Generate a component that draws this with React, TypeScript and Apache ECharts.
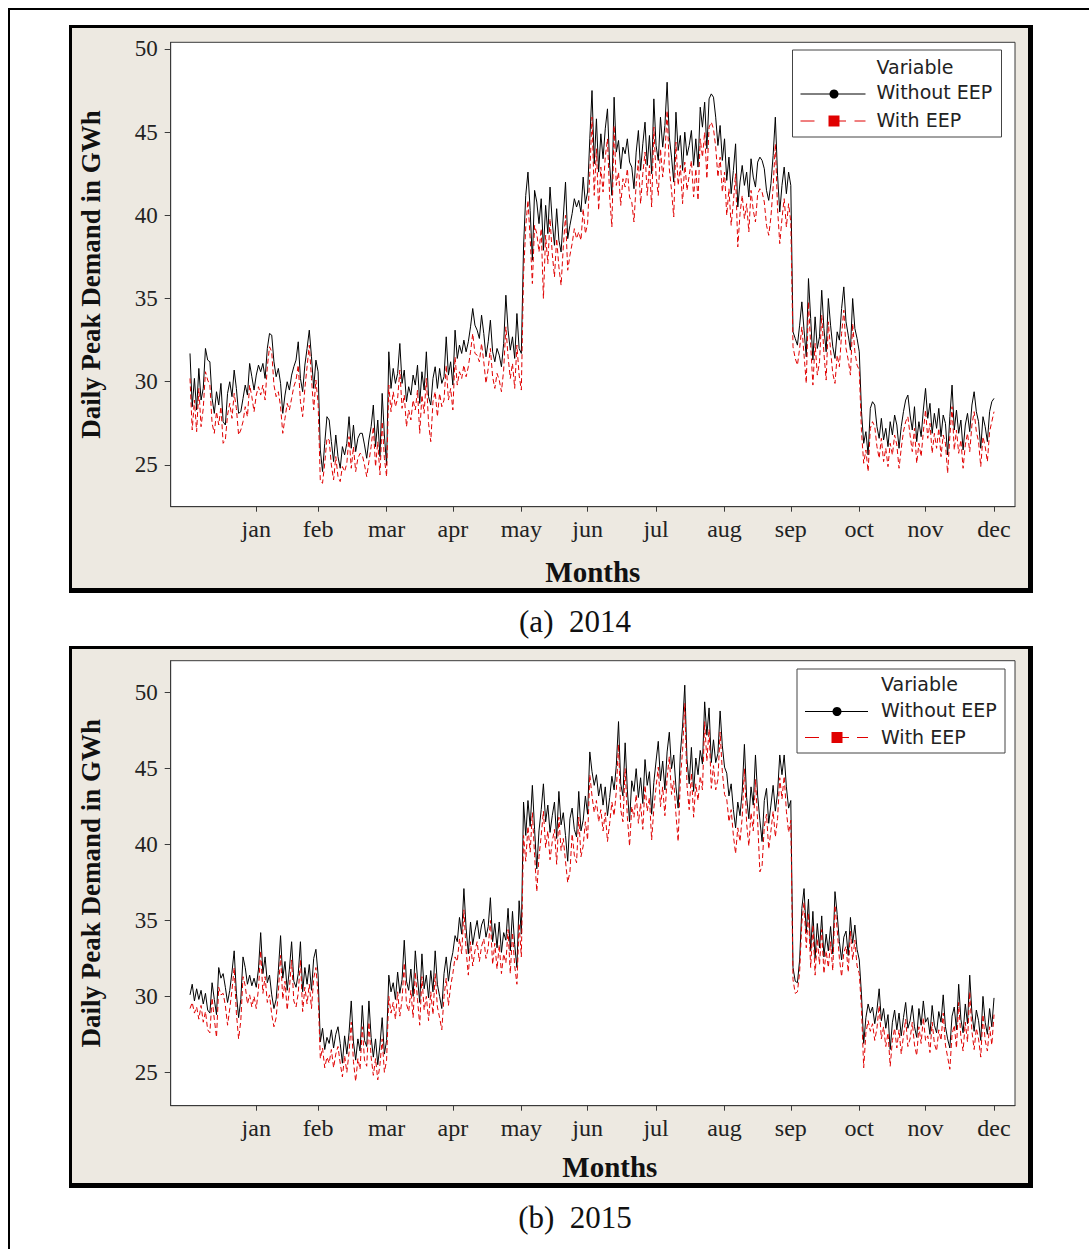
import React, { useEffect, useRef } from "react";
import * as echarts from "echarts";

const MONTHS = ["jan", "feb", "mar", "apr", "may", "jun", "jul", "aug", "sep", "oct", "nov", "dec"];
const MONTH_TICK_DAYS = [31, 59, 90, 120, 151, 181, 212, 243, 273, 304, 334, 365];
const Y_TICKS = [25, 30, 35, 40, 45, 50];

const WITHOUT_EEP_2014 = [
  31.7, 28.5, 30.2, 28.3, 30.8, 28.9, 29.6, 32.0, 31.3, 31.2, 29.0, 28.1, 29.4, 28.6, 29.9, 27.6, 27.4, 29.3, 30.0, 29.1, 30.7, 29.6, 28.1, 28.2, 29.0, 29.8, 29.2, 31.1, 30.3, 29.5, 30.4,
  31.0, 30.6, 31.1, 30.2, 32.0, 32.9, 32.8, 31.2, 30.3, 30.8, 29.9, 28.1, 29.2, 30.0, 29.5, 30.4, 30.9, 31.3, 32.4, 30.2, 29.4, 31.0, 32.0, 33.1, 31.5, 29.6, 31.3, 30.6,
  25.9, 24.6, 26.3, 27.9, 27.7, 26.4, 25.2, 26.8, 25.5, 24.8, 26.1, 25.6, 26.3, 27.9, 26.0, 27.4, 25.8, 26.6, 26.9, 26.9, 26.2, 25.4, 26.5, 27.3, 28.6, 26.1, 27.7, 25.5, 29.3, 26.8, 25.0,
  31.8, 29.6, 30.8, 29.9, 30.5, 32.3, 29.9, 30.7, 28.8, 29.7, 29.2, 30.4, 29.8, 31.0, 28.7, 30.6, 29.5, 31.8, 29.1, 28.6, 30.2, 30.9, 29.6, 30.8, 29.9, 30.3, 32.7, 30.4, 31.2, 29.8,
  33.1, 31.4, 32.2, 31.7, 32.5, 31.8, 32.4, 33.3, 34.4, 33.4, 33.1, 32.6, 34.0, 32.9, 31.5, 32.4, 33.7, 31.8, 31.2, 32.0, 31.6, 30.9, 32.3, 35.2, 33.1, 31.9, 32.7, 31.4, 34.1, 32.0, 31.7,
  38.1, 41.2, 42.6, 40.3, 37.3, 41.5, 40.8, 39.5, 41.0, 37.9, 40.6, 38.9, 41.7, 39.6, 38.2, 40.4, 38.5, 37.8, 39.9, 42.0, 38.6, 39.4, 40.1, 41.0, 40.5, 40.9, 40.2, 42.3, 40.7, 41.4,
  44.6, 47.5, 43.1, 45.8, 42.6, 44.9, 43.4, 45.2, 46.4, 43.0, 41.2, 47.1, 43.8, 44.5, 42.8, 44.1, 43.7, 44.6, 43.2, 42.9, 41.6, 43.8, 45.1, 42.7, 44.3, 45.6, 43.0, 44.8, 42.5, 47.0, 44.2,
  43.3, 45.9, 44.1, 45.4, 48.0, 44.7, 43.5, 42.0, 46.2, 43.9, 44.8, 42.7, 45.0, 43.6, 44.2, 45.1, 43.0, 44.6, 42.9, 46.5, 45.3, 46.8, 44.0, 47.0, 47.3, 47.1, 45.9, 44.2, 45.4, 43.3, 44.6,
  42.1, 43.5, 41.3, 42.7, 44.3, 40.5, 42.0, 43.0, 41.8, 42.6, 41.1, 43.4, 42.3, 41.7, 43.2, 43.5, 43.3, 42.8, 41.5, 40.9, 41.9, 43.6, 45.9, 42.4, 40.2, 41.8, 42.9, 41.3, 42.6, 41.8,
  33.0, 32.6, 32.2, 33.4, 34.8, 33.1, 31.5, 36.2, 33.8, 31.3, 33.9, 32.0, 32.7, 35.5, 33.2, 31.8, 35.0, 33.4, 32.1, 31.4, 33.0, 32.5, 34.4, 35.7, 33.6, 32.8, 31.9, 35.0, 33.2, 32.6, 31.8,
  28.2, 26.3, 27.0, 25.6, 28.4, 28.8, 28.6, 27.3, 26.6, 27.8, 26.5, 27.2, 26.1, 27.6, 26.8, 28.0, 27.4, 26.0, 27.3, 28.2, 28.9, 29.2, 28.0, 27.1, 28.5, 26.4, 27.6, 26.7, 28.3, 29.6,
  27.8, 28.7, 26.9, 28.1, 27.2, 28.4, 26.7, 28.0, 27.5, 25.6, 27.9, 29.8, 27.1, 28.3, 26.9, 27.7, 25.9, 27.4, 28.1, 27.0, 28.6, 29.4, 28.2, 27.6, 26.0, 27.9, 27.3, 26.4, 28.2, 28.8, 29.0,
];

const WITH_EEP_2014 = [
  30.2, 27.1, 28.9, 27.0, 29.6, 27.3, 28.4, 30.6, 30.1, 29.8, 27.5, 26.9, 28.2, 27.4, 28.5, 26.3, 26.5, 28.0, 28.7, 27.8, 29.3, 28.4, 26.8, 27.1, 27.6, 28.5, 27.9, 29.8, 29.1, 28.2, 29.2,
  29.7, 29.2, 29.8, 28.9, 30.9, 32.1, 31.8, 29.8, 29.1, 29.4, 28.5, 26.9, 27.8, 28.7, 28.3, 29.0, 29.7, 30.1, 31.0, 28.8, 27.9, 29.6, 30.9, 32.2, 30.2, 28.3, 30.1, 28.7,
  24.0, 23.9, 25.1, 26.6, 26.5, 25.0, 24.1, 25.5, 24.3, 24.0, 24.9, 24.6, 25.1, 26.7, 24.8, 26.1, 24.6, 25.4, 25.7, 25.6, 25.0, 24.3, 25.2, 26.1, 27.3, 24.9, 26.4, 24.4, 27.6, 25.4, 24.3,
  29.8, 28.2, 29.4, 28.5, 29.0, 30.7, 28.4, 29.2, 27.3, 28.3, 27.7, 28.9, 28.3, 29.5, 26.9, 29.2, 28.1, 30.2, 27.5, 26.4, 28.8, 29.4, 27.9, 29.3, 28.5, 28.9, 31.0, 28.9, 29.6, 28.3,
  31.5, 29.8, 30.6, 30.2, 31.0, 30.3, 30.9, 31.8, 32.9, 31.7, 31.6, 31.2, 32.3, 31.2, 29.9, 30.8, 32.0, 30.3, 29.6, 30.5, 30.1, 29.4, 30.7, 33.3, 31.5, 30.2, 31.1, 29.6, 32.2, 30.4, 29.5,
  36.4, 39.3, 40.9, 38.6, 35.9, 39.4, 38.9, 37.8, 39.2, 35.0, 38.8, 37.1, 39.8, 37.7, 36.3, 38.6, 36.9, 35.8, 38.1, 40.0, 36.7, 37.6, 38.3, 39.2, 38.6, 39.0, 38.5, 40.4, 38.9, 39.5,
  42.5, 45.9, 41.2, 44.0, 40.3, 42.9, 41.4, 43.5, 44.6, 41.1, 39.3, 45.4, 41.8, 42.6, 40.6, 42.2, 41.7, 42.8, 41.1, 40.8, 39.6, 41.9, 43.3, 40.7, 42.5, 43.8, 41.2, 43.0, 40.5, 45.3, 42.4,
  41.2, 44.0, 42.3, 43.6, 46.3, 42.8, 41.5, 39.9, 44.4, 41.8, 43.0, 40.7, 43.2, 41.5, 42.4, 43.3, 41.1, 42.8, 40.9, 44.6, 43.5, 45.0, 42.2, 45.3, 45.6, 45.2, 44.1, 42.3, 43.5, 41.4, 42.6,
  40.0, 41.6, 39.4, 40.8, 42.5, 38.1, 40.1, 41.2, 39.8, 40.7, 39.0, 41.5, 40.3, 39.6, 41.3, 41.6, 41.4, 40.8, 39.4, 38.8, 39.9, 41.7, 44.3, 40.4, 38.3, 39.8, 41.0, 39.3, 40.7, 39.6,
  32.1, 31.4, 31.0, 32.0, 33.3, 31.6, 29.9, 34.8, 32.2, 29.8, 32.3, 30.4, 31.2, 34.0, 31.7, 30.1, 33.6, 31.9, 30.5, 29.9, 31.6, 30.9, 32.9, 34.3, 32.0, 31.3, 30.4, 33.5, 31.8, 31.0, 30.7,
  27.0, 25.1, 25.9, 24.6, 27.2, 27.6, 27.3, 26.1, 25.4, 26.6, 25.2, 26.0, 24.9, 26.3, 25.6, 26.8, 26.2, 24.8, 26.0, 27.0, 27.6, 27.9, 26.8, 25.8, 27.2, 25.1, 26.3, 25.5, 27.0, 28.3,
  26.6, 27.5, 25.7, 26.9, 26.0, 27.2, 25.5, 26.8, 26.3, 24.5, 26.7, 28.5, 25.9, 27.1, 25.7, 26.5, 24.8, 26.2, 26.9, 25.8, 27.4, 28.2, 27.0, 26.4, 24.9, 26.7, 26.1, 25.2, 27.0, 27.6, 28.2,
];

const WITHOUT_EEP_2015 = [
  30.1, 30.8, 29.7, 30.5, 29.8, 30.4, 29.5, 30.2, 29.1, 28.9, 30.9, 29.8, 28.8, 31.9, 31.2, 31.5, 30.6, 29.6, 30.4, 31.6, 33.0, 30.2, 28.6, 29.8, 32.6, 31.9, 30.8, 31.4, 30.7, 31.2, 30.6,
  31.8, 34.2, 31.5, 32.6, 30.9, 31.4, 30.1, 29.2, 29.8, 31.7, 34.0, 31.2, 32.3, 30.4, 31.8, 33.6, 31.0, 30.6, 31.5, 33.6, 30.3, 31.9, 30.8, 32.1, 30.4, 32.5, 33.1, 31.4,
  27.0, 27.9, 26.5, 27.3, 26.9, 27.8, 26.6, 27.5, 28.0, 26.9, 25.6, 27.4, 26.2, 27.6, 29.7, 27.0, 25.8, 27.2, 26.4, 29.4, 27.1, 26.7, 29.7, 27.3, 26.0, 27.2, 25.5, 26.8, 28.6, 26.2, 27.1,
  31.4, 30.3, 30.9, 29.8, 31.6, 30.2, 31.1, 33.7, 31.0, 30.4, 31.8, 30.0, 33.0, 31.2, 29.6, 32.8, 30.5, 31.4, 29.9, 31.7, 30.3, 33.0, 30.8, 30.0, 29.2, 31.5, 32.6, 31.0, 32.2, 32.9,
  34.0, 33.6, 35.2, 34.1, 37.1, 34.5, 32.8, 34.9, 33.4, 34.3, 35.0, 33.8, 34.7, 35.1, 33.9, 34.6, 36.5, 33.6, 34.8, 33.2, 34.9, 32.9, 34.2, 33.7, 35.8, 33.0, 35.6, 33.4, 31.9, 36.3, 34.1,
  42.8, 40.6, 42.9, 41.2, 43.9, 41.0, 38.4, 40.9, 42.3, 44.0, 41.5, 42.6, 40.8, 41.9, 42.8, 40.4, 43.5, 41.3, 42.1, 40.6, 38.9, 41.7, 42.4, 41.0, 40.5, 43.5, 40.9, 41.6, 43.2, 42.0,
  46.1, 44.8, 43.9, 44.6, 43.2, 44.0, 42.6, 43.8, 41.9, 43.1, 44.5, 43.6, 45.2, 48.1, 44.0, 43.2, 46.7, 43.6, 41.5, 44.2, 43.5, 45.0, 43.1, 44.4, 42.7, 45.6, 43.9, 44.8, 42.0, 44.1, 45.5,
  46.8, 44.2, 45.5, 43.6, 46.1, 47.4, 45.0, 45.9, 43.8, 42.4, 46.0, 47.8, 50.5, 45.6, 44.0, 46.4, 43.5, 45.7, 44.6, 46.2, 45.3, 49.4, 47.2, 49.0, 45.4, 46.9, 45.4, 46.0, 48.8, 46.5, 45.1,
  44.7, 43.2, 44.0, 42.3, 41.1, 42.8, 41.9, 43.5, 46.6, 43.1, 41.7, 43.8, 42.6, 45.9, 43.2, 41.6, 40.2, 42.9, 43.7, 41.4, 42.6, 43.9, 42.2, 43.4, 45.9, 44.6, 45.9, 43.8, 42.4, 42.9,
  31.9, 31.0, 30.9, 32.4, 35.8, 37.1, 34.2, 36.4, 33.0, 35.6, 32.5, 34.8, 33.2, 35.3, 32.6, 34.1, 33.0, 34.6, 32.8, 36.9, 35.4, 33.6, 32.4, 33.9, 34.3, 32.7, 35.2, 33.5, 34.7, 33.1, 32.4,
  30.1, 26.9, 28.6, 29.5, 28.9, 29.3, 28.2, 29.1, 30.5, 28.4, 29.2, 27.9, 28.8, 26.5, 28.3, 29.1, 27.8, 28.9, 27.4, 28.6, 29.6, 27.9, 28.4, 29.4, 28.0, 27.3, 29.2, 28.1, 29.7, 28.3,
  28.6, 27.5, 29.4, 28.1, 27.6, 29.0, 28.3, 30.1, 28.0, 27.2, 26.6, 28.7, 29.3, 27.8, 30.8, 28.5, 27.6, 29.5, 28.2, 31.4, 28.9, 27.7, 29.1, 28.4, 27.1, 30.0, 28.3, 27.5, 29.2, 28.0, 29.9,
];

const WITH_EEP_2015 = [
  29.2, 29.6, 28.9, 29.3, 28.5, 29.4, 28.3, 29.0, 27.8, 27.6, 29.9, 28.5, 27.3, 30.6, 30.1, 30.2, 29.4, 28.1, 29.2, 30.4, 31.9, 28.9, 27.2, 28.4, 31.3, 30.7, 29.5, 30.1, 29.3, 30.0, 29.2,
  30.5, 33.0, 30.2, 31.3, 29.6, 30.1, 28.8, 28.0, 28.6, 30.3, 32.7, 29.8, 31.0, 29.1, 30.5, 32.4, 29.7, 29.3, 30.2, 32.4, 29.0, 30.6, 29.5, 30.8, 29.2, 31.2, 31.9, 30.1,
  25.9, 26.6, 25.3, 26.0, 25.6, 26.5, 25.3, 26.2, 26.7, 25.6, 24.7, 26.1, 25.0, 26.3, 28.3, 25.7, 24.4, 25.9, 25.2, 28.0, 25.8, 25.4, 28.3, 26.0, 24.8, 25.9, 24.5, 25.5, 27.2, 25.0, 25.8,
  30.0, 28.9, 29.6, 28.5, 30.3, 28.7, 29.8, 32.2, 29.5, 29.0, 30.4, 28.6, 31.6, 29.8, 28.1, 31.3, 29.1, 30.0, 28.4, 30.3, 28.8, 31.5, 29.3, 28.6, 27.8, 30.0, 31.2, 29.4, 30.7, 31.5,
  32.6, 32.3, 33.8, 32.8, 35.7, 33.0, 31.4, 33.6, 32.0, 33.0, 33.6, 32.3, 33.3, 33.8, 32.5, 33.2, 35.0, 32.1, 33.5, 31.8, 33.4, 31.5, 32.8, 32.2, 34.4, 31.5, 34.2, 32.0, 30.8, 34.8, 32.6,
  40.6, 38.9, 41.2, 39.5, 42.1, 39.3, 36.9, 39.2, 40.6, 42.2, 39.8, 40.9, 39.0, 40.2, 41.0, 38.7, 41.8, 39.6, 40.4, 38.9, 37.5, 38.2, 40.7, 39.3, 38.8, 41.8, 39.2, 39.9, 41.5, 40.3,
  44.6, 43.2, 42.1, 42.9, 41.5, 42.3, 40.9, 42.1, 40.2, 41.4, 42.8, 41.9, 43.5, 46.6, 42.3, 41.5, 45.0, 41.8, 39.9, 42.5, 41.8, 43.3, 41.4, 42.7, 41.0, 43.9, 42.2, 43.1, 40.3, 42.4, 43.8,
  45.1, 42.5, 43.8, 41.9, 44.4, 45.8, 43.3, 44.2, 42.0, 40.2, 44.3, 46.2, 49.3, 43.9, 42.3, 44.7, 41.8, 44.0, 42.9, 44.5, 43.6, 48.1, 45.5, 47.6, 43.7, 45.2, 43.6, 44.3, 47.4, 44.8, 43.3,
  43.0, 41.5, 42.3, 40.6, 39.4, 41.1, 40.2, 41.8, 45.0, 41.4, 39.9, 42.1, 40.9, 44.3, 41.5, 38.2, 38.6, 41.2, 42.0, 39.7, 40.9, 42.2, 40.5, 41.7, 44.4, 43.0, 44.5, 42.2, 40.8, 41.6,
  31.1, 30.2, 30.3, 31.6, 34.9, 36.2, 33.2, 35.5, 31.9, 34.7, 31.4, 33.8, 32.1, 34.4, 31.5, 33.0, 31.9, 33.6, 31.7, 36.0, 34.4, 32.5, 31.3, 32.9, 33.3, 31.6, 34.3, 32.4, 33.7, 32.0, 31.5,
  29.2, 25.3, 27.6, 28.4, 27.7, 28.2, 27.1, 27.9, 29.4, 27.2, 28.0, 26.7, 27.6, 25.4, 27.1, 27.9, 26.6, 27.8, 26.2, 27.4, 28.5, 26.7, 27.2, 28.3, 26.8, 26.1, 28.0, 26.9, 28.6, 27.1,
  27.4, 26.3, 28.3, 26.9, 26.4, 27.8, 27.1, 28.9, 26.8, 26.0, 25.2, 27.5, 28.1, 26.6, 29.6, 27.3, 26.4, 28.3, 27.0, 30.3, 27.7, 26.5, 27.9, 27.2, 26.0, 28.8, 27.1, 26.4, 28.0, 26.8, 28.8,
];

const SERIF = "'Liberation Serif', 'Times New Roman', serif";
const SANS = "'DejaVu Sans', Verdana, sans-serif";
const BEIGE = "#EDE9E1";
const AXIS_COLOR = "#3a3a3a";
const RED = "#E00000";

const toPairs = (arr: number[]) => arr.map((v, i) => [i + 1, v]);

function legendGroup(box: { x: number; y: number; w: number; h: number }, textX: number, rows: number[], lineX1: number, lineX2: number, markX: number) {
  const [yVar, yWo, yW] = rows;
  return [
    {
      type: "rect",
      z: 50,
      shape: { x: box.x, y: box.y, width: box.w, height: box.h },
      style: { fill: "#ffffff", stroke: "#444", lineWidth: 1 },
    },
    {
      type: "text",
      z: 51,
      style: { text: "Variable", x: textX, y: yVar, fontFamily: SANS, fontSize: 19, fill: "#222", textAlign: "left", textVerticalAlign: "middle" },
    },
    {
      type: "text",
      z: 51,
      style: { text: "Without EEP", x: textX, y: yWo, fontFamily: SANS, fontSize: 19, fill: "#222", textAlign: "left", textVerticalAlign: "middle" },
    },
    {
      type: "text",
      z: 51,
      style: { text: "With EEP", x: textX, y: yW, fontFamily: SANS, fontSize: 19, fill: "#222", textAlign: "left", textVerticalAlign: "middle" },
    },
    { type: "line", z: 51, shape: { x1: lineX1, y1: yWo + 2, x2: lineX2, y2: yWo + 2 }, style: { stroke: "#000", lineWidth: 1 } },
    { type: "circle", z: 52, shape: { cx: markX, cy: yWo + 2, r: 4.5 }, style: { fill: "#000" } },
    { type: "line", z: 51, shape: { x1: lineX1, y1: yW + 1, x2: lineX1 + 14, y2: yW + 1 }, style: { stroke: RED, lineWidth: 1 } },
    { type: "line", z: 51, shape: { x1: markX + 5, y1: yW + 1, x2: markX + 12, y2: yW + 1 }, style: { stroke: RED, lineWidth: 1 } },
    { type: "line", z: 51, shape: { x1: lineX2 - 11, y1: yW + 1, x2: lineX2, y2: yW + 1 }, style: { stroke: RED, lineWidth: 1 } },
    { type: "rect", z: 52, shape: { x: markX - 5.5, y: yW + 1 - 5.5, width: 11, height: 11 }, style: { fill: RED } },
  ];
}

export default function App() {
  const ref = useRef<HTMLDivElement>(null);

  useEffect(() => {
    if (!ref.current) return;
    const chart = echarts.init(ref.current, undefined, { renderer: "svg" });

    const xAxisBase = (gridIndex: number, nameGap: number, namePadLeft: number) => ({
      type: "value",
      gridIndex,
      min: -7.74,
      max: 374.5,
      axisLine: { show: true, onZero: false, lineStyle: { color: AXIS_COLOR, width: 1 } },
      axisTick: { show: true, length: 5, customValues: MONTH_TICK_DAYS, lineStyle: { color: AXIS_COLOR, width: 1 } },
      axisLabel: {
        customValues: MONTH_TICK_DAYS,
        formatter: (v: number) => MONTHS[MONTH_TICK_DAYS.indexOf(Math.round(v))] ?? "",
        fontFamily: SERIF,
        fontSize: 24,
        color: "#222",
        margin: 10,
      },
      splitLine: { show: false },
      name: "Months",
      nameLocation: "middle",
      nameGap,
      nameTextStyle: { fontFamily: SERIF, fontWeight: "bold", fontSize: 29, color: "#111", padding: [0, 0, 0, namePadLeft] },
    });

    const yAxisBase = (gridIndex: number, min: number, max: number) => ({
      type: "value",
      gridIndex,
      min,
      max,
      axisLine: { show: true, onZero: false, lineStyle: { color: AXIS_COLOR, width: 1 } },
      axisTick: { show: true, length: 6, customValues: Y_TICKS, lineStyle: { color: AXIS_COLOR, width: 1 } },
      axisLabel: { customValues: Y_TICKS, fontFamily: SERIF, fontSize: 23, color: "#222", margin: 13 },
      splitLine: { show: false },
      name: "Daily Peak Demand in GWh",
      nameLocation: "middle",
      nameGap: 66,
      nameTextStyle: { fontFamily: SERIF, fontWeight: "bold", fontSize: 27, color: "#111" },
    });

    const lineSeries = (name: string, data: number[], idx: number, red: boolean) => ({
      name,
      type: "line",
      xAxisIndex: idx,
      yAxisIndex: idx,
      data: toPairs(data),
      showSymbol: false,
      symbol: "none",
      silent: true,
      z: red ? 3 : 2,
      lineStyle: red ? { color: RED, width: 1, type: [5, 3] } : { color: "#000", width: 1 },
    });

    const option: any = {
      animation: false,
      backgroundColor: "#ffffff",
      grid: [
        { left: 170.7, top: 42.3, width: 844.3, height: 464.4, show: true, backgroundColor: "#ffffff", borderColor: AXIS_COLOR, borderWidth: 1 },
        { left: 170.7, top: 660.7, width: 844.3, height: 445, show: true, backgroundColor: "#ffffff", borderColor: AXIS_COLOR, borderWidth: 1 },
      ],
      xAxis: [xAxisBase(0, 51, 0), xAxisBase(1, 47, 34)],
      yAxis: [yAxisBase(0, 22.49, 50.4), yAxisBase(1, 22.8, 52.11)],
      series: [
        lineSeries("Without EEP", WITHOUT_EEP_2014, 0, false),
        lineSeries("With EEP", WITH_EEP_2014, 0, true),
        lineSeries("Without EEP", WITHOUT_EEP_2015, 1, false),
        lineSeries("With EEP", WITH_EEP_2015, 1, true),
      ],
      graphic: [
        { type: "rect", z: -20, silent: true, shape: { x: 9, y: 9, width: 1100, height: 1260 }, style: { fill: "none", stroke: "#000", lineWidth: 2 } },
        { type: "rect", z: -20, silent: true, shape: { x: 69, y: 25, width: 964, height: 568 }, style: { fill: "#000" } },
        { type: "rect", z: -19, silent: true, shape: { x: 72, y: 28, width: 956, height: 560 }, style: { fill: BEIGE } },
        { type: "rect", z: -20, silent: true, shape: { x: 69, y: 646, width: 964, height: 542 }, style: { fill: "#000" } },
        { type: "rect", z: -19, silent: true, shape: { x: 72, y: 649, width: 956, height: 534 }, style: { fill: BEIGE } },
        {
          type: "text",
          z: 10,
          style: { text: "(a)  2014", x: 575, y: 621, fontFamily: SERIF, fontSize: 31, fill: "#111", textAlign: "center", textVerticalAlign: "middle" },
        },
        {
          type: "text",
          z: 10,
          style: { text: "(b)  2015", x: 575, y: 1217, fontFamily: SERIF, fontSize: 31, fill: "#111", textAlign: "center", textVerticalAlign: "middle" },
        },
        ...legendGroup({ x: 792.5, y: 50, w: 209, h: 87 }, 876.5, [67, 92, 120], 800.5, 865.5, 834),
        ...legendGroup({ x: 797, y: 669, w: 208, h: 84 }, 881, [684, 709.5, 736.5], 805, 868, 837),
      ],
    };

    chart.setOption(option);
    return () => chart.dispose();
  }, []);

  return <div ref={ref} style={{ position: "absolute", left: 0, top: 0, width: 1089, height: 1249 }} />;
}
